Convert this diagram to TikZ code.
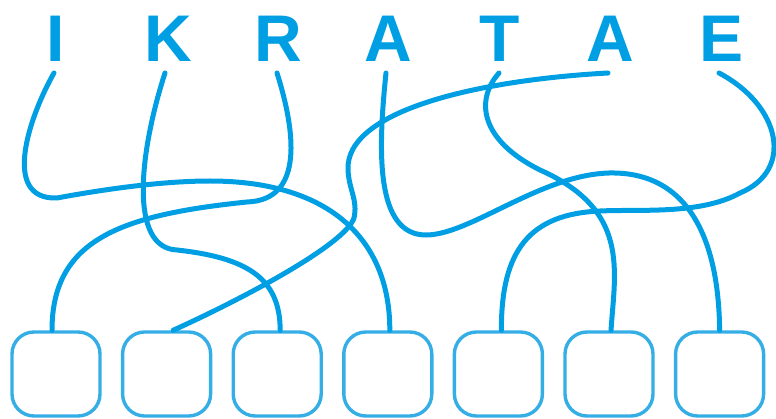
\documentclass[tikz,border=0pt]{standalone}
\usepackage{fontspec}
\setmainfont{Liberation Sans}
\begin{document}
\begin{tikzpicture}[x=1pt,y=-1pt,
  letter/.style={font=\fontsize{66}{66}\selectfont\bfseries, text=wire, inner sep=0pt, anchor=base},
  slot/.style={draw=slotc, line width=3.4pt, rounded corners=22pt, minimum width=88pt, minimum height=84pt, inner sep=0pt},
  wire/.style={draw=wire, line width=5pt, line cap=round}]
\definecolor{wire}{HTML}{009FE3}
\definecolor{slotc}{HTML}{35AEE6}
\useasboundingbox (0,0) rectangle (776,419);
% letters
\node[letter] (L1) at (56,62) {I};
\node[letter] (L2) at (168,62) {K};
\node[letter] (L3) at (278,62) {R};
\node[letter] (L4) at (388,62) {A};
\node[letter] (L5) at (500,62) {T};
\node[letter] (L6) at (610,62) {A};
\node[letter] (L7) at (722,62) {E};
% slots
\foreach \i/\x in {1/56,2/166.6,3/277.2,4/387.8,5/498.4,6/609,7/719.6}
  \node[slot] (B\i) at (\x,374) {};
% start points
\coordinate (s1) at ([xshift=-2pt,yshift=-11pt]L1.base);
\coordinate (s2) at ([xshift=-3pt,yshift=-11pt]L2.base);
\coordinate (s3) at ([xshift=-1pt,yshift=-11pt]L3.base);
\coordinate (s4) at ([xshift=-2pt,yshift=-11pt]L4.base);
\coordinate (s5) at ([xshift=-1pt,yshift=-11pt]L5.base);
\coordinate (s6) at ([xshift=-2pt,yshift=-11pt]L6.base);
\coordinate (s7) at ([xshift=-3pt,yshift=-11pt]L7.base);
% end points
\coordinate (e1) at ([xshift=-4pt]B1.north);
\coordinate (e2) at ([xshift=6.5pt]B2.north);
\coordinate (e3) at ([xshift=3pt]B3.north);
\coordinate (e4) at ([xshift=2pt]B4.north);
\coordinate (e5) at ([xshift=3pt]B5.north);
\coordinate (e6) at ([xshift=2pt]B6.north);
\coordinate (e7) at ([xshift=0pt]B7.north);
% wires
\draw[wire] (s1) .. controls (30,115) and (0,200) .. (57,198)
  .. controls (100,190) and (160,181) .. (210,181)
  .. controls (330,181) and (390,240) .. (e4);
\draw[wire] (s2) .. controls (140,150) and (128,248) .. (177,250)
  .. controls (250,258) and (280,280) .. (e3);
\draw[wire] (s3) .. controls (295,130) and (305,200) .. (247,202)
  .. controls (120,215) and (52,240) .. (e1);
\draw[wire] (s4) .. controls (378,150) and (375,235) .. (426,235)
  .. controls (470,235) and (540,175) .. (609,173)
  .. controls (700,171) and (719,260) .. (e7);
\draw[wire] (s5) .. controls (475,100) and (480,140) .. (540,170)
  .. controls (630,210) and (615,270) .. (e6);
\draw[wire] (s6) .. controls (480,80) and (345,110) .. (348,170)
  .. controls (349,190) and (358,200) .. (354,218)
  .. controls (345,245) and (240,300) .. (e2);
\draw[wire] (s7) .. controls (780,105) and (795,170) .. (740,193)
  .. controls (700,215) and (640,209) .. (600,211)
  .. controls (530,214) and (501,250) .. (e5);
\end{tikzpicture}
\end{document}
